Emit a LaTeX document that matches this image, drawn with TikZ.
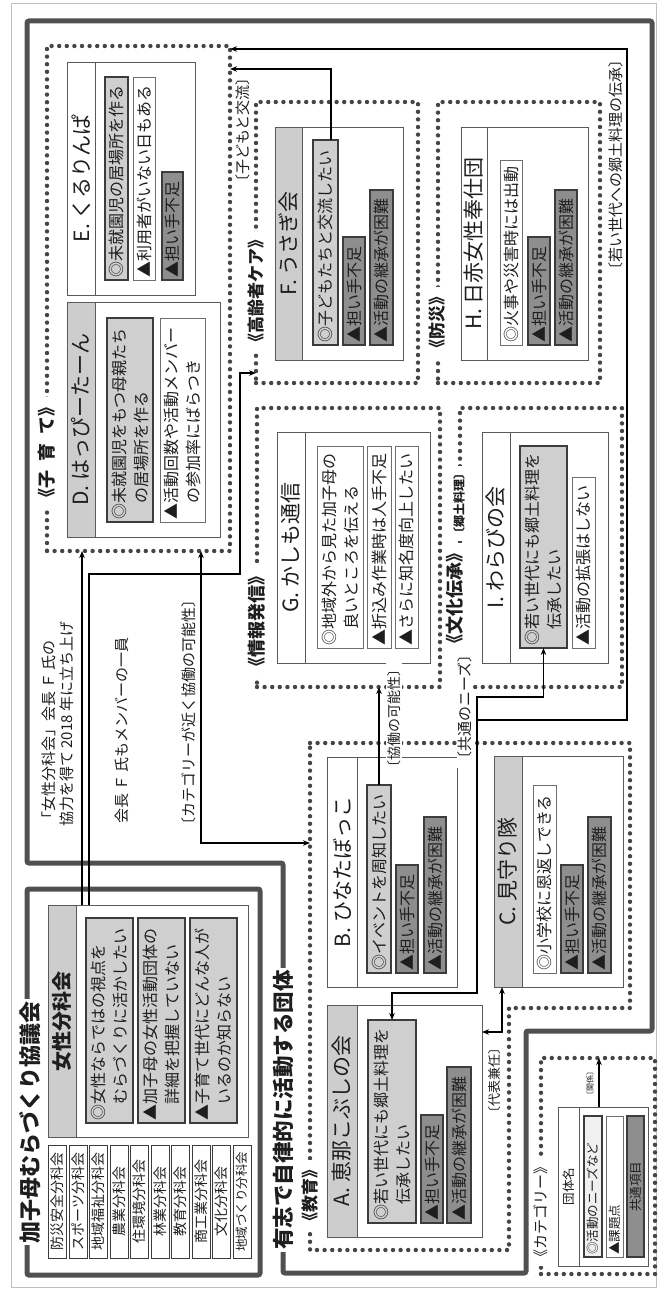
\documentclass[tikz,border=0pt]{standalone}
\usepackage{fontspec}
\setmainfont{Noto Sans CJK JP}
\usepackage{graphicx}
\usetikzlibrary{arrows.meta}
\definecolor{frm}{HTML}{505050}
\definecolor{dotc}{HTML}{454545}
\definecolor{boxc}{HTML}{5A5A5A}
\definecolor{hdrgray}{HTML}{CDCDCD}
\definecolor{lightfill}{HTML}{CFCFCF}
\definecolor{darkfill}{HTML}{8E8E8E}
\definecolor{itb}{HTML}{3C3C3C}
\definecolor{wb}{HTML}{6E6E6E}
\definecolor{ink}{HTML}{1E1E1E}
\newcommand\jfItem{\fontsize{16}{22}\selectfont}
\newcommand\jfTitle{\fontsize{21}{24}\selectfont}
\newcommand\jfCat{\fontsize{18}{20}\selectfont\bfseries}
\newcommand\jfLbl{\fontsize{15}{18}\selectfont}
\newcommand\jfGroup{\fontsize{22}{24}\selectfont\bfseries}
\newcommand\jfSmall{\fontsize{14}{16}\selectfont}
\newcommand\jfLeg{\fontsize{12.5}{14}\selectfont}
% item box: name, style, x1, y1, x2, y2, text (image pixel coordinates)
\newcommand\itm[7]{\node[#2, minimum width={#5pt-#3pt}, minimum height={#6pt-#4pt}, anchor=north west] (#1) at (#3,#4) {\rotatebox{90}{\parbox{\dimexpr#6pt-#4pt-5pt\relax}{\raggedright #7}}};}
% header (centred text)
\newcommand\hdr[7]{\node[#2, minimum width={#5pt-#3pt}, minimum height={#6pt-#4pt}, anchor=north west] (#1) at (#3,#4) {\rotatebox{90}{#7}};}
% group box
\newcommand\grpbox[5]{\node[grp, minimum width={#4pt-#2pt}, minimum height={#5pt-#3pt}, anchor=north west] (#1) at (#2,#3) {};}
% dotted category box
\newcommand\dbox[5]{\node[dotbox, minimum width={#4pt-#2pt}, minimum height={#5pt-#3pt}, anchor=north west] (#1) at (#2,#3) {};}
\tikzset{
  frame/.style={draw=frm, line width=5pt, rounded corners=2pt},
  dotbox/.style={draw=dotc, line width=4.4pt, dash pattern=on 0pt off 7.6pt, line cap=round, inner sep=0pt, outer sep=0pt},
  grp/.style={draw=boxc, line width=0.9pt, fill=white, inner sep=0pt, outer sep=0pt},
  hdrW/.style={grp, font=\jfTitle, text=ink},
  hdrG/.style={grp, fill=hdrgray, font=\jfTitle, text=ink},
  itL/.style={draw=itb, line width=1.1pt, fill=lightfill, inner sep=0pt, outer sep=0pt, font=\jfItem, text=ink},
  itW/.style={draw=wb, line width=0.9pt, fill=white, inner sep=0pt, outer sep=0pt, font=\jfItem, text=ink},
  itD/.style={draw=itb, line width=1.1pt, fill=darkfill, inner sep=0pt, outer sep=0pt, font=\jfItem, text=ink},
  bk/.style={draw=itb, line width=0.9pt, fill=white, inner sep=0pt, outer sep=0pt, font=\jfSmall, text=ink, minimum width=18pt, minimum height=113pt, anchor=north west},
  conn/.style={draw=black, line width=1.3pt, >={Stealth[length=7pt,width=5.5pt]}},
  lbl/.style={inner sep=1pt, font=\jfLbl, text=ink},
  cat/.style={fill=white, inner sep=1.5pt, font=\jfCat, text=ink},
  gtitle/.style={fill=white, inner sep=2pt, font=\jfGroup, text=ink},
}
\begin{document}
\begin{tikzpicture}[x=1pt, y=-1pt]
\useasboundingbox (0,0) rectangle (659,1290);
\fill[white] (0,0) rectangle (659,1290);
\draw[gray!50, line width=0.8pt] (11,3) rectangle (656,1287);

% ---------- big frames ----------
\draw[frame] (27,21) -- (652,21) -- (652,1031) -- (526,1031) -- (526,1273) -- (283,1273) -- (283,863) -- (27,863) -- cycle;
\draw[frame] (27,889) rectangle (260,1275);

% ---------- category (dotted) boxes ----------
\dbox{kos}{47}{46}{230}{551}
\dbox{kor}{256}{102}{418}{383}
\dbox{bos}{438}{102}{600}{383}
\dbox{jho}{257}{408}{440}{687}
\dbox{bun}{460}{408}{622}{687}
\draw[dotbox] (310,743) -- (630,743) -- (630,1008) -- (509,1008) -- (509,1250) -- (310,1250) -- cycle;
\coordinate (kyoW) at (310,843);
\dbox{leg}{541}{1058}{655}{1274}

% ---------- E ----------
\grpbox{E}{67}{62}{195}{295}
\hdr{Eh}{hdrW}{67}{62}{95}{295}{E. くるりんぱ}
\itm{E1}{itL}{105}{77}{128}{280}{◎未就園児の居場所を作る}
\itm{E2}{itW}{133}{77}{155}{280}{▲利用者がいない日もある}
\itm{E3}{itD}{162}{172}{183}{280}{▲担い手不足}
% ---------- D ----------
\grpbox{D}{67}{302}{220}{537}
\hdr{Dh}{hdrG}{67}{302}{95}{537}{D. はっぴーたーん}
\itm{D1}{itL}{107}{318}{153}{522}{◎未就園児をもつ母親たち\newline\hspace*{1em}の居場所を作る}
\itm{D2}{itW}{160}{318}{205}{522}{▲活動回数や活動メンバー\newline\hspace*{1em}の参加率にばらつき}
% ---------- F ----------
\grpbox{F}{275}{127}{403}{360}
\hdr{Fh}{hdrG}{275}{127}{302}{360}{F. うさぎ会}
\itm{F1}{itL}{313}{140}{338}{345}{◎子どもたちと交流したい}
\itm{F2}{itD}{343}{237}{365}{345}{▲担い手不足}
\itm{F3}{itD}{370}{190}{393}{345}{▲活動の継承が困難}
% ---------- H ----------
\grpbox{H}{461}{127}{588}{360}
\hdr{Hh}{hdrW}{461}{127}{487}{360}{H. 日赤女性奉仕団}
\itm{H1}{itW}{500}{160}{522}{345}{◎火事や災害時には出動}
\itm{H2}{itD}{528}{237}{550}{345}{▲担い手不足}
\itm{H3}{itD}{555}{190}{577}{345}{▲活動の継承が困難}
% ---------- G ----------
\grpbox{G}{277}{432}{430}{663}
\hdr{Gh}{hdrW}{277}{432}{305}{663}{G. かしも通信}
\itm{G1}{itW}{317}{446}{363}{648}{◎地域外から見た加子母の\newline\hspace*{1em}良いところを伝える}
\itm{G2}{itW}{367}{446}{391}{648}{▲折込み作業時は人手不足}
\itm{G3}{itW}{395}{446}{418}{648}{▲さらに知名度向上したい}
% ---------- I ----------
\grpbox{I}{482}{432}{608}{663}
\hdr{Ih}{hdrW}{482}{432}{510}{663}{I. わらびの会}
\itm{I1}{itL}{520}{446}{567}{648}{◎若い世代にも郷土料理を\newline\hspace*{1em}伝承したい}
\itm{I2}{itW}{572}{477}{595}{648}{▲活動の拡張はしない}
% ---------- B ----------
\grpbox{B}{327}{757}{457}{987}
\hdr{Bh}{hdrW}{327}{757}{357}{987}{B. ひなたぼっこ}
\itm{B1}{itL}{367}{785}{391}{973}{◎イベントを周知したい}
\itm{B2}{itD}{396}{865}{418}{973}{▲担い手不足}
\itm{B3}{itD}{424}{817}{446}{973}{▲活動の継承が困難}
% ---------- C ----------
\grpbox{C}{494}{756}{623}{987}
\hdr{Ch}{hdrG}{494}{756}{522}{987}{C. 見守り隊}
\itm{C1}{itW}{533}{785}{556}{973}{◎小学校に恩返しできる}
\itm{C2}{itD}{561}{865}{583}{973}{▲担い手不足}
\itm{C3}{itD}{588}{817}{611}{973}{▲活動の継承が困難}
% ---------- A ----------
\grpbox{A}{327}{1005}{482}{1237}
\hdr{Ah}{hdrG}{327}{1005}{357}{1237}{A. 恵那こぶしの会}
\itm{A1}{itL}{368}{1020}{416}{1223}{◎若い世代にも郷土料理を\newline\hspace*{1em}伝承したい}
\itm{A2}{itD}{421}{1115}{443}{1223}{▲担い手不足}
\itm{A3}{itD}{447}{1067}{471}{1223}{▲活動の継承が困難}
% ---------- 女性分科会 ----------
\grpbox{W}{48}{905}{248}{1137}
\hdr{Wh}{hdrG, font=\fontsize{20}{22}\selectfont\bfseries}{48}{905}{76}{1137}{女性分科会}
\itm{W1}{itL}{86}{918}{133}{1123}{◎女性ならではの視点を\newline\hspace*{1em}むらづくりに活かしたい}
\itm{W2}{itL}{138}{918}{185}{1123}{▲加子母の女性活動団体の\newline\hspace*{1em}詳細を把握していない}
\itm{W3}{itL}{190}{918}{237}{1123}{▲子育て世代にどんな人が\newline\hspace*{1em}いるのか知らない}
% ---------- 分科会 list ----------
\node[bk] (k1) at (48,1145) {\rotatebox{90}{防災安全分科会}};
\node[bk] (k2) at (69,1145) {\rotatebox{90}{スポーツ分科会}};
\node[bk] (k3) at (89,1145) {\rotatebox{90}{地域福祉分科会}};
\node[bk] (k4) at (110,1145) {\rotatebox{90}{農業分科会}};
\node[bk] (k5) at (130,1145) {\rotatebox{90}{住環境分科会}};
\node[bk] (k6) at (151,1145) {\rotatebox{90}{林業分科会}};
\node[bk] (k7) at (171,1145) {\rotatebox{90}{教育分科会}};
\node[bk] (k8) at (192,1145) {\rotatebox{90}{商工業分科会}};
\node[bk] (k9) at (212,1145) {\rotatebox{90}{文化分科会}};
\node[bk, font=\fontsize{12.5}{14}\selectfont] (k10) at (233,1145) {\rotatebox{90}{地域づくり分科会}};
% ---------- legend ----------
\grpbox{L}{558}{1107}{648}{1266}
\hdr{Lh}{hdrW, font=\jfLeg}{558}{1107}{579}{1266}{団体名}
\itm{L1}{itL, fill=gray!12, font=\jfLeg}{584}{1116}{602}{1257}{◎活動のニーズなど}
\itm{L2}{itW, font=\jfLeg}{606}{1116}{623}{1257}{▲課題点}
\hdr{L3}{itD, font=\jfLeg}{627}{1116}{644}{1257}{共通項目}

% ---------- connectors ----------
\draw[conn, <->] (I1.south) -- (I1.south |- 0,697) -- (477,697) -- (477,993) -- (392,993) -- (A1.north -| 392,0);
\draw[conn, <-] (kos.east |- 0,49) -- (627,49) -- (627,720) -- (477,720);
\draw[conn, <-] (kos.east |- 0,69) -- (331,69) -- (F1.north -| 331,0);
\draw[conn, ->] (W.north -| 82,0) -- (kos.south -| 82,0);
\draw[conn, ->] (W.north -| 89,0) -- (89,574) -- (240,574) -- (240,373) -- (kor.west |- 0,373);
\draw[conn, <->] (kos.south -| 201,0) -- (201,843) -- (kyoW);
\draw[conn, ->] (B1.north -| 379,0) -- (jho.south -| 379,0);
\draw[conn, <->] (Ch.south -| 502,0) -- (502,1032) -- (A.east |- 0,1032);
\draw[conn, ->] (L.north -| 599,0) -- (leg.north -| 599,0);

% ---------- connector labels ----------
\node[lbl] (t1) at (243,130) {\rotatebox{90}{〔子どもと交流〕}};
\node[lbl] (t2) at (616,165) {\rotatebox{90}{〔若い世代への郷土料理の伝承〕}};
\node[lbl, anchor=south] (t3) at (58,828) {\rotatebox{90}{\parbox{262pt}{\raggedright 「女性分科会」会長 Ｆ 氏の\newline 協力を得て 2018 年に立ち上げ}}};
\node[lbl, anchor=south] (t4) at (122,825) {\rotatebox{90}{会長 Ｆ 氏もメンバーの一員}};
\node[lbl, anchor=south] (t5) at (189,834) {\rotatebox{90}{〔カテゴリーが近く協働の可能性〕}};
\node[lbl, fill=white, font=\fontsize{14}{16}\selectfont] (t6) at (394,718) {\rotatebox{90}{〔協働の可能性〕}};
\node[lbl, fill=white] (t7) at (465,707) {\rotatebox{90}{〔共通のニーズ〕}};
\node[lbl, font=\fontsize{13}{15}\selectfont] (t8) at (495,1080) {\rotatebox{90}{〔代表兼任〕}};
\node[lbl, font=\fontsize{8}{9}\selectfont] (t9) at (590,1083) {\rotatebox{90}{〔関係〕}};

% ---------- category labels ----------
\node[cat] (c1) at (47,452) {\rotatebox{90}{《子\hspace{9pt}育\hspace{9pt}て》}};
\node[cat, font=\fontsize{17}{19}\selectfont\bfseries] (c2) at (256,291) {\rotatebox{90}{《高齢者ケア》}};
\node[cat, font=\fontsize{17}{19}\selectfont\bfseries] (c3) at (437,322) {\rotatebox{90}{《防災》}};
\node[cat] (c4) at (257,621) {\rotatebox{90}{《情報発信》}};
\node[cat] (c5) at (455,598) {\rotatebox{90}{《文化伝承》}};
\node[cat, font=\fontsize{12}{13}\selectfont\bfseries] (c5b) at (459,503) {\rotatebox{90}{〔郷土料理〕}};
\node[cat, font=\fontsize{17}{19}\selectfont\bfseries] (c6) at (310,1195) {\rotatebox{90}{《教育》}};
\node[cat, font=\fontsize{15}{17}\selectfont] (c7) at (541,1212) {\rotatebox{90}{《カテゴリー》}};

% ---------- group titles ----------
\node[gtitle] (g1) at (30,1122) {\rotatebox{90}{加子母むらづくり協議会}};
\node[gtitle, font=\fontsize{21.5}{24}\selectfont\bfseries] (g2) at (283,1110) {\rotatebox{90}{有志で自律的に活動する団体}};
\end{tikzpicture}
\end{document}
